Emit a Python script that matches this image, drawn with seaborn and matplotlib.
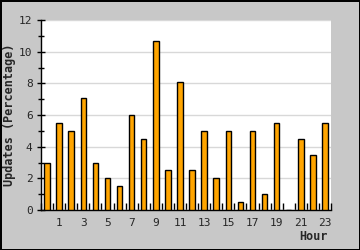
import matplotlib
matplotlib.use("Agg")
import matplotlib.pyplot as plt
import seaborn as sns
import pandas as pd
import numpy as np

hours = list(range(24))
values = [3.0, 5.5, 5.0, 7.1, 3.0, 2.0, 1.5, 6.0, 4.5, 10.7, 2.5, 8.1,
          2.5, 5.0, 2.0, 5.0, 0.5, 5.0, 1.0, 5.5, 0.0, 4.5, 3.5, 5.5]
x_tick_labels = [str(h) for h in hours if h % 2 == 1]
y_ticks = [0, 2, 4, 6, 8, 10, 12]

sns.set_style("white")
plt.rcParams['font.family'] = ['DejaVu Sans Mono', 'DejaVu Sans']

df = pd.DataFrame({"hour": hours, "value": values})

fig = plt.figure(figsize=(3.6, 2.5), dpi=100)
fig.patch.set_facecolor("#c8c8c8")
fig.patch.set_edgecolor("black")
fig.patch.set_linewidth(2)

ax = fig.add_axes([41/360, 40/250, 290/360, 190/250])
ax.set_facecolor("white")
sns.barplot(data=df, x="hour", y="value", color="#ffa500", edgecolor="black",
            linewidth=1.0, width=0.45, saturation=1, ax=ax, zorder=3)

ax.set_xlim(-0.5, 23.5)
ax.set_ylim(0, 12)
ax.set_xticks([h for h in hours if h % 2 == 1])
ax.set_xticklabels(x_tick_labels)
ax.set_xticks(np.arange(-0.5, 24, 1), minor=True)
ax.set_yticks(y_ticks)
ax.set_yticklabels([str(v) for v in y_ticks])
ax.set_yticks(np.arange(1, 12, 2), minor=True)

ax.tick_params(axis="x", which="major", length=0, pad=6, labelsize=8)
ax.tick_params(axis="x", which="minor", direction="in", length=5, width=1, color="black", bottom=True)
ax.tick_params(axis="y", which="major", direction="inout", length=6, width=1, color="black", left=True, pad=3, labelsize=8)
ax.tick_params(axis="y", which="minor", direction="inout", length=4, width=1, color="black", left=True)

ax.grid(axis="y", which="major", color="#d8d8d8", linewidth=1, zorder=0)
ax.set_axisbelow(True)
for s in ["top", "right"]:
    ax.spines[s].set_visible(False)
for s in ["left", "bottom"]:
    ax.spines[s].set_color("black")
    ax.spines[s].set_linewidth(1)

ax.set_xlabel("")
ax.set_ylabel("")
fig.text(328/360, 1 - 236/250, "Hour", ha="right", va="center", fontsize=8.5, fontweight="bold")
fig.text(10/360, 1 - 115/250, "Updates (Percentage)", ha="center", va="center",
         rotation=90, fontsize=8.5, fontweight="bold")

fig.savefig("out.png", dpi=100, facecolor=fig.get_facecolor(), edgecolor=fig.get_edgecolor())
